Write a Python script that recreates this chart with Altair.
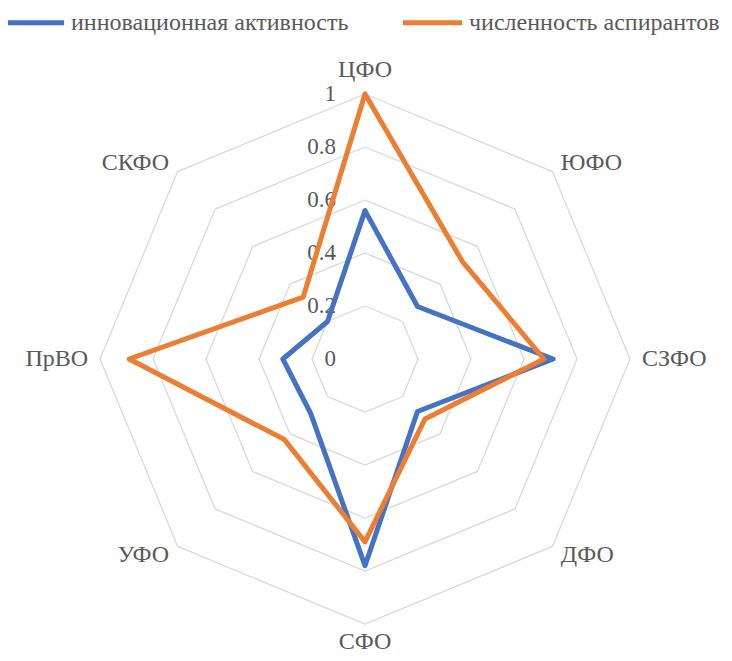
import altair as alt
import pandas as pd

# ---- data ----
categories = ["ЦФО", "ЮФО", "СЗФО", "ДФО", "СФО", "УФО", "ПрВО", "СКФО"]
innovation = [0.56, 0.28, 0.71, 0.28, 0.78, 0.29, 0.31, 0.20]
graduates = [1.00, 0.52, 0.675, 0.32, 0.69, 0.43, 0.89, 0.33]
series_names = ["инновационная активность", "численность аспирантов"]
series_colors = ["#4472C4", "#ED7D31"]
tick_values = [0, 0.2, 0.4, 0.6, 0.8, 1.0]
tick_labels = ["0", "0.2", "0.4", "0.6", "0.8", "1"]

FONT = "'Liberation Serif', 'DejaVu Serif', serif"
TXT = "#595959"
N = len(categories)

# ---- tables ----
rows = []
for name, vals in zip(series_names, [innovation, graduates]):
    for k in range(N + 1):
        rows.append({"series": name, "k": k, "cat": categories[k % N], "v": vals[k % N]})
lines_df = pd.DataFrame(rows)

grid_rows = []
for t in tick_values:
    if t > 0:
        for k in range(N + 1):
            grid_rows.append({"ring": t, "k": k})
grid_df = pd.DataFrame(grid_rows)

ticks_df = pd.DataFrame({"t": tick_values, "label": tick_labels})
cats_df = pd.DataFrame({"cat": categories, "k": list(range(N))})

W, H = 716, 645
xs = alt.Scale(domain=[-1.3472, 1.3547], nice=False, zero=False)
ys = alt.Scale(domain=[-1.1094, 1.3245], nice=False, zero=False)

ANG = "datum.k * PI / 4"

grid = alt.Chart(grid_df).transform_calculate(
    x=f"datum.ring * sin({ANG})", y=f"datum.ring * cos({ANG})"
).mark_line(stroke="#D9D9D9", strokeWidth=1.3).encode(
    x=alt.X("x:Q", scale=xs, axis=None),
    y=alt.Y("y:Q", scale=ys, axis=None),
    detail="ring:N",
    order="k:Q",
)

tick_text = alt.Chart(ticks_df).transform_calculate(x="0").mark_text(
    align="right", baseline="middle", dx=-29, font=FONT, fontSize=23, color=TXT
).encode(
    x=alt.X("x:Q", scale=xs, axis=None),
    y=alt.Y("t:Q", scale=ys, axis=None),
    text="label:N",
)

LR = 1.045
cat_base = alt.Chart(cats_df).transform_calculate(
    x=f"{LR} * sin({ANG})", y=f"{LR} * cos({ANG})", s=f"sin({ANG})", c=f"cos({ANG})"
)
enc = dict(
    x=alt.X("x:Q", scale=xs, axis=None),
    y=alt.Y("y:Q", scale=ys, axis=None),
    text="cat:N",
)
FS = 24
cat_right = cat_base.transform_filter("datum.s > 0.1").mark_text(
    align="left", baseline="middle", font=FONT, fontSize=FS, color=TXT
).encode(**enc)
cat_left = cat_base.transform_filter("datum.s < -0.1").mark_text(
    align="right", baseline="middle", font=FONT, fontSize=FS, color=TXT
).encode(**enc)
cat_top = cat_base.transform_filter("abs(datum.s) <= 0.1 && datum.c > 0").mark_text(
    align="center", baseline="middle", dy=-12, font=FONT, fontSize=FS, color=TXT
).encode(**enc)
cat_bottom = cat_base.transform_filter("abs(datum.s) <= 0.1 && datum.c < 0").mark_text(
    align="center", baseline="middle", dy=6, font=FONT, fontSize=FS, color=TXT
).encode(**enc)

data_lines = alt.Chart(lines_df).transform_calculate(
    x=f"datum.v * sin({ANG})", y=f"datum.v * cos({ANG})"
).mark_line(strokeWidth=5, strokeJoin="round", strokeCap="round").encode(
    x=alt.X("x:Q", scale=xs, axis=None),
    y=alt.Y("y:Q", scale=ys, axis=None),
    color=alt.Color(
        "series:N",
        scale=alt.Scale(domain=series_names, range=series_colors),
        legend=alt.Legend(
            title=None,
            orient="none",
            direction="horizontal",
            legendX=-6,
            legendY=-18,
            symbolType="stroke",
            symbolStrokeWidth=5,
            symbolSize=3500,
            labelFont=FONT,
            labelFontSize=24,
            labelColor=TXT,
            labelLimit=500,
            labelOffset=4,
            columnPadding=43,
        ),
    ),
    order="k:Q",
)

chart = alt.layer(
    grid, tick_text, cat_right, cat_left, cat_top, cat_bottom, data_lines
).properties(
    width=W, height=H, autosize=alt.AutoSizeParams(type="none"), padding=0
).configure_view(strokeWidth=0)

chart.save("out.html", embed_options={"renderer": "svg", "actions": False})
